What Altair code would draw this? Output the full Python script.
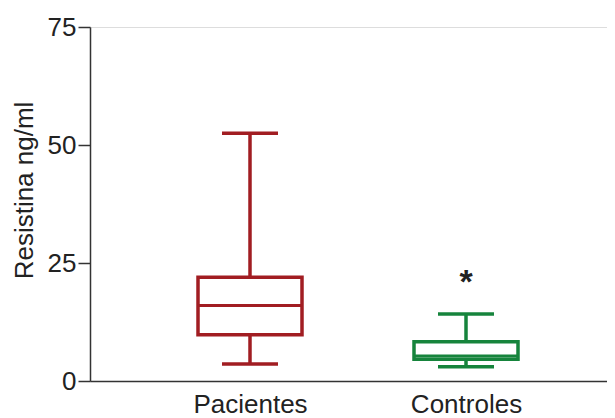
import altair as alt
import pandas as pd

groups = ["Pacientes", "Controles"]
mins = [3.6, 3.0]
q1s = [9.8, 4.6]
medians = [16.0, 5.3]
q3s = [22.0, 8.3]
maxs = [52.5, 14.2]
colors = ["#a11d22", "#16843c"]
star_group = ["Controles"]
star_y = [22.0]

df = pd.DataFrame({"group": groups, "min": mins, "q1": q1s, "median": medians,
                   "q3": q3s, "max": maxs, "color": colors})
stars = pd.DataFrame({"group": star_group, "y": star_y, "t": ["*"]})

FONT = "Liberation Sans"
W = 517
# point positions: centres at 160 and 376 px from the y axis
step = 216
pad = (W / step - 1) / 2
align = 160 / (W - step)
xscale = alt.Scale(type="point", domain=groups, padding=pad, align=align)
yscale = alt.Scale(domain=[0, 75])

x = alt.X("group:N", scale=xscale, sort=groups,
          axis=alt.Axis(title=None, ticks=False, labelFontSize=26, labelFont=FONT,
                        labelColor="#222", labelPadding=10, domainColor="#333",
                        domainWidth=1.5, labelAngle=0))
col = alt.Color("color:N", scale=None)
base = alt.Chart(df)

yaxis = alt.Axis(values=[0, 25, 50, 75], title="Resistina ng/ml", titleFontSize=26,
                 titleFont=FONT, titleFontWeight="normal", titleColor="#222",
                 labelFontSize=26, labelFont=FONT, labelColor="#222", tickSize=12,
                 tickColor="#333", tickWidth=1.5, domainColor="#333", domainWidth=1.5,
                 labelPadding=2, titlePadding=10, titleY=163, grid=False)

lower = base.mark_rule(strokeWidth=3.5, opacity=1).encode(
    x=x, y=alt.Y("min:Q", scale=yscale, axis=yaxis), y2="q1:Q", color=col)
upper = base.mark_rule(strokeWidth=3.5, opacity=1).encode(
    x=x, y=alt.Y("q3:Q", scale=yscale), y2="max:Q", color=col)
box = base.mark_bar(size=104, fill="white", strokeWidth=3.5, opacity=1).encode(
    x=x, y=alt.Y("q1:Q", scale=yscale), y2="q3:Q", stroke=col)
med = base.mark_tick(size=104, thickness=3.0, opacity=1).encode(
    x=x, y=alt.Y("median:Q", scale=yscale), color=col)
capl = base.mark_tick(size=56, thickness=3.5, opacity=1).encode(
    x=x, y=alt.Y("min:Q", scale=yscale), color=col)
caph = base.mark_tick(size=56, thickness=3.5, opacity=1).encode(
    x=x, y=alt.Y("max:Q", scale=yscale), color=col)
star = alt.Chart(stars).mark_text(fontSize=34, font=FONT, fontWeight="bold",
                                  color="#222", baseline="middle", dy=6).encode(
    x=x, y=alt.Y("y:Q", scale=yscale), text="t:N")

chart = alt.layer(lower, upper, box, med, capl, caph, star).properties(
    width=W, height=354,
    autosize=alt.AutoSizeParams(type="none"),
    padding={"left": 82, "top": 19, "right": 0, "bottom": 45},
).configure_view(stroke=None).configure(background="white")

chart.save("out.html", embed_options={"renderer": "svg", "actions": False})
